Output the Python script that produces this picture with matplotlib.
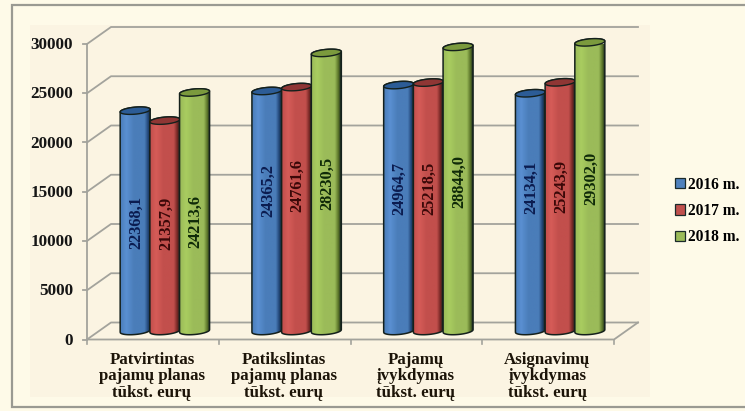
import numpy as np
import matplotlib
matplotlib.use("Agg")
import matplotlib.pyplot as plt
from matplotlib.patches import Patch, PathPatch, Rectangle
from matplotlib.path import Path
from matplotlib.colors import LinearSegmentedColormap

categories = ["Patvirtintas\npajamų planas\ntūkst. eurų", "Patikslintas\npajamų planas\ntūkst. eurų",
              "Pajamų\nįvykdymas\ntūkst. eurų", "Asignavimų\nįvykdymas\ntūkst. eurų"]
series_names = ["2016 m.", "2017 m.", "2018 m."]
values_2016 = [22368.1, 24365.2, 24964.7, 24134.1]
values_2017 = [21357.9, 24761.6, 25218.5, 25243.9]
values_2018 = [24213.6, 28230.5, 28844.0, 29302.0]
y_ticks = [0, 5000, 10000, 15000, 20000, 25000, 30000]

W, H = 745, 411
plt.rcParams['font.family'] = ['Liberation Serif', 'DejaVu Serif']
fig = plt.figure(figsize=(W / 100, H / 100), dpi=100, facecolor="#fefae8")

# frame and parchment panel
bg = fig.add_axes([0, 0, 1, 1], zorder=0)
bg.set_xlim(0, W); bg.set_ylim(H, 0); bg.axis("off")
bg.add_patch(Rectangle((11.5, 5.5), W, 401, fc="#fefae8", ec="#9a9a92", lw=1.6))
bg.add_patch(Rectangle((30, 25), 620, 372, fc="#fbf4e2", ec="none"))

# main axes = front plane of the 3D box
x0, x1, ytop, ybot = 87.0, 614.0, 44.0, 339.5
ax = fig.add_axes([x0 / W, 1 - ybot / H, (x1 - x0) / W, (ybot - ytop) / H], zorder=1)
ax.patch.set_alpha(0)
ax.set_xlim(0, 4); ax.set_ylim(0, 30000)
for s in ax.spines.values():
    s.set_visible(False)
px = 4 / (x1 - x0)                # data per pixel, x
py = 30000 / (ybot - ytop)        # data per pixel, y
dx, dy = 24 * px, 17 * py         # box depth
GRID = "#a3a39c"

for v in y_ticks:
    ax.plot([0, dx, 4 + dx], [v, v + dy, v + dy], color=GRID, lw=1.3, clip_on=False, zorder=1)
    ax.plot([-4 * px, 0], [v, v], color=GRID, lw=1.3, clip_on=False, zorder=1)
ax.plot([0, 0], [0, 30000], color=GRID, lw=1.3, zorder=1, clip_on=False)
ax.plot([0, 4, 4 + dx], [0, 0, dy], color=GRID, lw=1.3, zorder=1, clip_on=False)
for i in range(5):
    ax.plot([i, i], [0, -4 * py], color=GRID, lw=1.2, clip_on=False, zorder=1)

ax.set_xticks([]); ax.set_yticks([])
for v in y_ticks:
    ax.text(-14 * px, v - 1 * py, str(v), ha="right", va="center", fontsize=12.3, fontweight="bold", color="#151515")
for i, c in enumerate(categories):
    ax.text(i + 0.5 - 1 * px, -12 * py, c, ha="center", va="top", fontsize=12.2, fontweight="bold",
            color="#1c1408", linespacing=1.07)

# (shadow, light, body, cap) for each series
palettes = [("#1d3f6e", "#5a90d2", "#4a7db9", "#2c5c96"),
            ("#6f2422", "#d65c58", "#c24f4c", "#8f3634"),
            ("#566f26", "#a9cd60", "#9bbb59", "#7b9a3d")]
legend_colors = ["#4f81bd", "#c0504d", "#9bbb59"]
text_colors = ["#0b1c50", "#3a0808", "#0f2a08"]
series = [values_2016, values_2017, values_2018]
# vertical centre of each rotated value label, in pixels of the picture
label_px = [[222, 190, 188, 187], [223, 185, 188, 186], [221, 183, 181, 178]]

bar_w = 30.0 * px
base = 8.5 * py
a, b = bar_w / 2, 3.5 * py
tilt = 1.3 * py / a

def cap(xc, yc, t0, t1, n=40):
    t = np.linspace(t0, t1, n)
    return np.c_[xc + a * np.cos(t), yc + b * np.sin(t) + tilt * a * np.cos(t)]

for s, vals in enumerate(series):
    dark, light, mid, topc = palettes[s]
    cm = LinearSegmentedColormap.from_list(
        "c", [(0, mid), (0.2, light), (0.45, mid), (0.8, mid), (0.93, dark), (1, "#1c2a22")])
    grad = np.linspace(0, 1, 64)[None, :]
    for i, v in enumerate(vals):
        xc = i + 0.5 + 12 * px + (s - 1) * 29.7 * px
        yb, yt = base, base + v
        body = np.vstack([cap(xc, yb, np.pi, 2 * np.pi), cap(xc, yt, 0, np.pi)])
        patch = PathPatch(Path(np.vstack([body, body[0]])), fc="none", ec="#14201c", lw=1.1,
                          zorder=3 + s * 0.1 + i, clip_on=False)
        im = ax.imshow(grad, cmap=cm, aspect="auto", extent=(xc - a, xc + a, yb - b * 2, yt + b * 2),
                       zorder=3 + s * 0.1 + i, interpolation="bilinear")
        ax.add_patch(patch)
        im.set_clip_path(patch)
        ax.add_patch(PathPatch(Path(cap(xc, yt, 0, 2 * np.pi)), fc=topc, ec="#14201c", lw=1.0,
                               zorder=3.01 + s * 0.1 + i, clip_on=False))
        ax.text(xc + 1 * px, (ybot - label_px[s][i]) * py, f"{v:.1f}".replace(".", ","), rotation=90,
                ha="center", va="center", fontsize=11.8, fontweight="bold",
                color=text_colors[s], zorder=3.02 + s * 0.1 + i)
ax.set_xlim(0, 4); ax.set_ylim(0, 30000)

handles = [Patch(facecolor=legend_colors[k], edgecolor="#1a2a2a", lw=0.9, label=series_names[k]) for k in range(3)]
fig.legend(handles=handles, loc="center left", bbox_to_anchor=(675 / W, 1 - 211 / H), frameon=False,
           prop={"size": 11.2, "weight": "bold"}, labelspacing=0.66, handlelength=0.62, handleheight=0.62,
           handletextpad=0.2, borderpad=0, borderaxespad=0)
fig.savefig("out.png", dpi=100, facecolor=fig.get_facecolor())
